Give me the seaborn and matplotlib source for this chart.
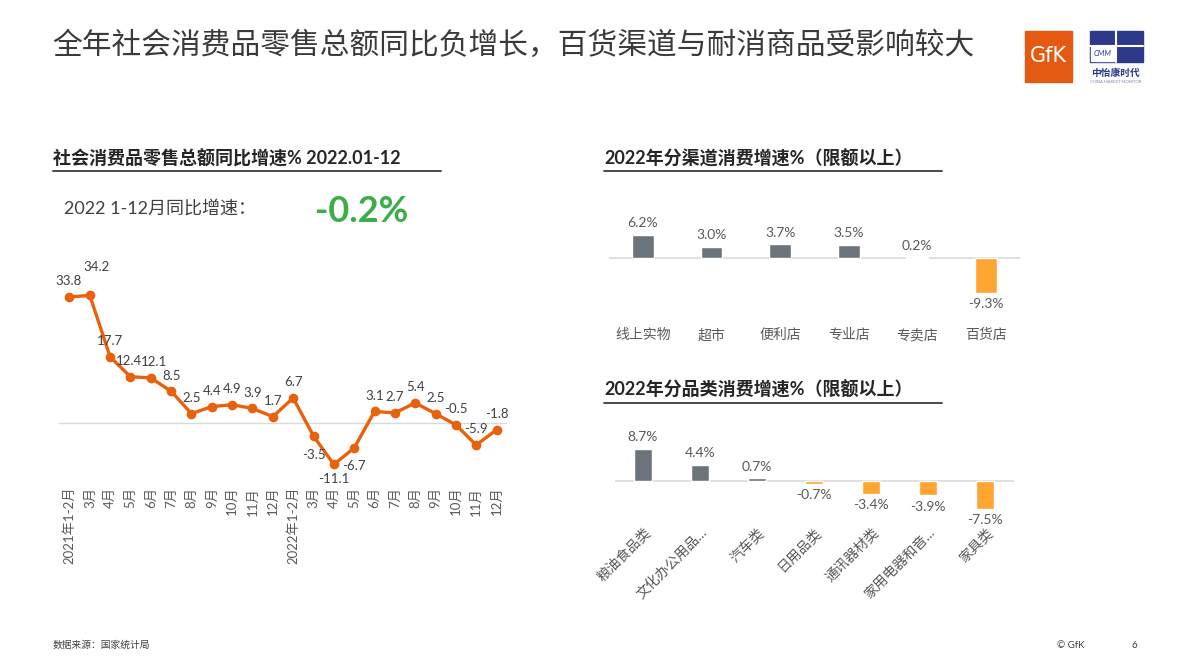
import matplotlib
matplotlib.use("Agg")
import matplotlib.pyplot as plt
from matplotlib.patches import Rectangle
from matplotlib.lines import Line2D
import pandas as pd
import seaborn as sns

# data
months = ['2021年1-2月', '3月', '4月', '5月', '6月', '7月', '8月', '9月', '10月', '11月', '12月',
          '2022年1-2月', '3月', '4月', '5月', '6月', '7月', '8月', '9月', '10月', '11月', '12月']
growth = [33.8, 34.2, 17.7, 12.4, 12.1, 8.5, 2.5, 4.4, 4.9, 3.9, 1.7,
          6.7, -3.5, -11.1, -6.7, 3.1, 2.7, 5.4, 2.5, -0.5, -5.9, -1.8]

channels = ['线上实物', '超市', '便利店', '专业店', '专卖店', '百货店']
channel_growth = [6.2, 3.0, 3.7, 3.5, 0.2, -9.3]

categories = ['粮油食品类', '文化办公用品…', '汽车类', '日用品类', '通讯器材类', '家用电器和音…', '家具类']
category_growth = [8.7, 4.4, 0.7, -0.7, -3.4, -3.9, -7.5]

ytd_growth = -0.2

sns.set_theme(style="white")
plt.rcParams['font.family'] = ['Lato', 'Noto Sans CJK SC', 'DejaVu Sans']

W, H = 1190, 669
fig = plt.figure(figsize=(W / 100, H / 100), dpi=100)


def ax_px(x0, y0, x1, y1):
    # axes from pixel box (top-left origin)
    return fig.add_axes([x0 / W, 1 - y1 / H, (x1 - x0) / W, (y1 - y0) / H])


def fx(x):
    return x / W


def fy(y):
    return 1 - y / H


GRAY = '#6B747B'
ORANGE = '#FFA531'
LINE = '#E8620E'
TXT = '#595959'

# title
fig.text(fx(52), fy(45), '全年社会消费品零售总额同比负增长，百货渠道与耐消商品受影响较大',
         fontsize=21.4, color='#3A3A3A', va='center', ha='left')

# subtitles
for x0, x1, y, s in [(53, 441, 158, '社会消费品零售总额同比增速% 2022.01-12'),
                     (604, 942, 158, '2022年分渠道消费增速%（限额以上）'),
                     (604, 942, 390, '2022年分品类消费增速%（限额以上）')]:
    fig.text(fx(x0), fy(y), s, fontsize=13, fontweight='bold', color='#262626', va='center', ha='left')
    fig.add_artist(Line2D([fx(x0), fx(x1)], [fy(y + 13), fy(y + 13)], color='#3A3A3A', lw=1.3))

fig.text(fx(64), fy(208), '2022 1-12月同比增速：', fontsize=13, color='#404040', va='center')
fig.text(fx(315), fy(211), f'{ytd_growth:.1f}%', fontsize=26, fontweight='bold', color='#3CAD48', va='center')

# line chart
ax1 = ax_px(59.3, 288.7, 506.7, 471.5)
df_line = pd.DataFrame({'idx': range(len(growth)), 'growth': growth})
sns.lineplot(data=df_line, x='idx', y='growth', ax=ax1, color=LINE, lw=2.4,
             marker='o', markersize=7, markeredgewidth=0)
ax1.axhline(0, color='#DADADA', lw=1, zorder=0)
ax1.set_xlim(-0.5, len(growth) - 0.5)
ax1.set_ylim(-13, 36)
ax1.set_xticks(range(len(months)))
ax1.set_xticklabels(months, rotation=90, fontsize=9.5, color=TXT)
ax1.tick_params(axis='x', length=0, pad=11)
ax1.set_yticks([])
ax1.set_xlabel('')
ax1.set_ylabel('')
for sp in ax1.spines.values():
    sp.set_visible(False)
below = {12, 13, 14}
shift = {0: (-1, 0), 1: (5, 9), 3: (-1, 0), 4: (2, 0), 13: (0, 3)}
for i, v in enumerate(growth):
    dx, dy = shift.get(i, (0, 0))
    if i in below:
        ax1.annotate(f'{v}', (i, v), xytext=(dx, -9 + dy), textcoords='offset points',
                     ha='center', va='top', fontsize=9.5, color='#404040')
    else:
        ax1.annotate(f'{v}', (i, v), xytext=(dx, 7 + dy), textcoords='offset points',
                     ha='center', va='bottom', fontsize=9.5, color='#404040')


def bar_panel(ax, labels, vals, ylim, rot):
    df = pd.DataFrame({'label': labels, 'val': vals,
                       'sign': ['pos' if v >= 0 else 'neg' for v in vals]})
    sns.barplot(data=df, x='label', y='val', hue='sign', palette={'pos': GRAY, 'neg': ORANGE},
                dodge=False, legend=False, width=0.32, saturation=1, ax=ax)
    ax.axhline(0, color='#DADADA', lw=1.2, zorder=0)
    ax.set_xlim(-0.5, len(vals) - 0.5)
    ax.set_ylim(*ylim)
    ax.set_yticks([])
    ax.set_xlabel('')
    ax.set_ylabel('')
    for sp in ax.spines.values():
        sp.set_visible(False)
    for i, v in enumerate(vals):
        if v >= 0:
            ax.annotate(f'{v:.1f}%', (i, v), xytext=(0, 4), textcoords='offset points',
                        ha='center', va='bottom', fontsize=10, color=TXT)
        else:
            ax.annotate(f'{v:.1f}%', (i, v), xytext=(0, -4), textcoords='offset points',
                        ha='center', va='top', fontsize=10, color=TXT)
    ax.set_xticks(range(len(labels)))
    if rot:
        ax.set_xticklabels(labels, rotation=45, ha='right', rotation_mode='anchor',
                           fontsize=10, color=TXT)
    else:
        ax.set_xticklabels(labels, fontsize=10, color=TXT)
    ax.tick_params(axis='x', length=0)


ax2 = ax_px(608.7, 224.4, 1020, 302.8)
bar_panel(ax2, channels, channel_growth, (-12, 9), False)
ax2.tick_params(axis='x', pad=18)

ax3 = ax_px(614.5, 440.3, 1013.5, 518)
bar_panel(ax3, categories, category_growth, (-10, 11), True)
ax3.tick_params(axis='x', pad=5)

# logos
fig.add_artist(Rectangle((fx(1025), fy(82)), fx(47), (82 - 31) / H, color='#E55A12', transform=fig.transFigure))
fig.text(fx(1048.5), fy(56), 'GfK', color='white', fontsize=15, ha='center', va='center',
         family=['DejaVu Sans'])
BLUE = '#2D3A8C'
fig.add_artist(Rectangle((fx(1090), fy(62)), fx(53), 31 / H, color=BLUE, transform=fig.transFigure))
fig.add_artist(Line2D([fx(1116), fx(1116)], [fy(31), fy(62)], color='white', lw=1.5))
fig.add_artist(Line2D([fx(1090), fx(1143)], [fy(46), fy(46)], color='white', lw=1.5))
fig.add_artist(Rectangle((fx(1091), fy(61)), fx(24), 14 / H, color='white', transform=fig.transFigure))
fig.text(fx(1103), fy(54), 'CMM', color=BLUE, fontsize=5.5, ha='center', va='center', style='italic')
fig.text(fx(1116), fy(73), '中怡康时代', color=BLUE, fontsize=7, ha='center', va='center', fontweight='bold')
fig.text(fx(1116), fy(82), 'CHINA MARKET MONITOR', color='#7F86B5', fontsize=3, ha='center', va='center')

# footer
fig.text(fx(53), fy(645), '数据来源：国家统计局', fontsize=7, color='#404040', va='center')
fig.text(fx(1057), fy(645), '© GfK', fontsize=7, color='#404040', va='center')
fig.text(fx(1131), fy(645), '6', fontsize=7, color='#404040', va='center')

fig.savefig('out.png', dpi=100)
